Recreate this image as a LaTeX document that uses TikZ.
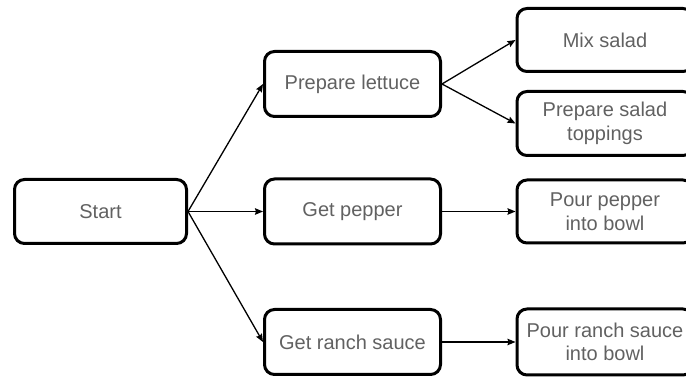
\documentclass[tikz,border=0pt]{standalone}
\usepackage{fontspec}
\setmainfont{Liberation Sans}
\usetikzlibrary{shapes,arrows.meta,positioning}

\begin{document}
\begin{tikzpicture}[x=1pt, y=-1pt,
    task/.style={draw, rectangle, rounded corners=10pt, line width=3pt, minimum width=176pt, minimum height=65pt, align=center, text=black!62, font=\fontsize{20}{23.5}\selectfont},
    link/.style={-{Stealth[length=8pt, width=6.5pt, inset=1pt]}, line width=1.3pt}]
    \useasboundingbox (0,0) rectangle (686,379);
    \clip (0,0) rectangle (686,379);

    \node (start) [task, minimum width=172pt, minimum height=64pt] at (100.5,211.5) {Start};
    \node (lettuce) [task] at (352.5,84) {Prepare lettuce};
    \node (pepper) [task] at (352.5,211.5) {Get pepper};
    \node (ranch) [task] at (352.5,342) {Get ranch sauce};
    \node (mix) [task, minimum height=63pt] at (605,40) {Mix salad};
    \node (toppings) [task, minimum height=64pt] at (605,123.5) {Prepare salad\\toppings};
    \node (pourpepper) [task, minimum height=63pt] at (605,211.5) {Pour pepper\\into bowl};
    \node (pourranch) [task, minimum height=66pt] at (605,342) {Pour ranch sauce\\into bowl};

    \draw [link] (start.east) -- (lettuce.west);
    \draw [link] (start.east) -- (pepper.west);
    \draw [link] (start.east) -- (ranch.west);
    \draw [link] (lettuce.east) -- (mix.west);
    \draw [link] (lettuce.east) -- (toppings.west);
    \draw [link] (pepper.east) -- (pourpepper.west);
    \draw [link] (ranch.east) -- (pourranch.west);
\end{tikzpicture}
\end{document}
